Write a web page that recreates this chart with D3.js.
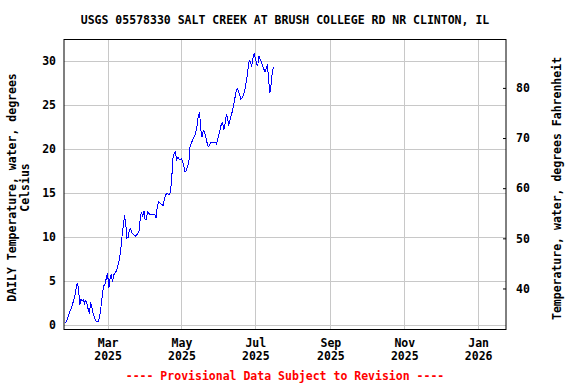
<!DOCTYPE html>
<html>
<head>
<meta charset="utf-8">
<script src="https://cdn.jsdelivr.net/npm/d3@7"></script>
<style>
  html, body { margin: 0; padding: 0; background: #fff; }
  svg { display: block; }
  text { font-family: "DejaVu Sans Mono", "Liberation Mono", monospace; font-weight: bold; }
</style>
</head>
<body>
<svg id="chart" width="576" height="384"></svg>
<script>
// ---------------- DATA ----------------
const title = "USGS 05578330 SALT CREEK AT BRUSH COLLEGE RD NR CLINTON, IL";
const leftTitleLines = ["DAILY Temperature, water, degrees", "Celsius"];
const rightTitle = "Temperature, water, degrees Fahrenheit";
const footnote = "---- Provisional Data Subject to Revision ----";

const xDomain = ["2025-01-24", "2026-01-24"];
const xTickDates = ["2025-03-01", "2025-05-01", "2025-07-01", "2025-09-01", "2025-11-01", "2026-01-01"];
const xTickMonths = ["Mar", "May", "Jul", "Sep", "Nov", "Jan"];
const xTickYears = ["2025", "2025", "2025", "2025", "2025", "2026"];

const yTicksC = [0, 5, 10, 15, 20, 25, 30];
const yDomainC = [-0.49, 32.47];
const yTicksF = [40, 50, 60, 70, 80];
const yDomainF = [31.82, 89.65];

// Daily mean water temperature (deg C), one value per day starting firstDay
const firstDay = "2025-01-25";
const tempC = [
  0.25, 0.4, 0.8, 1.2, 1.6, 1.9, 2.4, 2.8, 3.3, 4.2,
  4.8, 4.2, 2.3, 2.9, 2.8, 2.9, 2.5, 2.8, 2.4, 1.8,
  1.3, 2.6, 2.0, 1.4, 0.9, 0.6, 0.4, 0.35, 0.7, 1.5,
  2.6, 3.8, 4.5, 4.7, 5.4, 5.9, 4.2, 5.3, 5.8, 4.9,
  5.7, 5.9, 6.1, 6.5, 7.0, 7.7, 8.8, 10.2, 11.3, 12.5,
  11.5, 9.9, 10.0, 10.8, 11.0, 10.5, 10.4, 10.2, 10.1, 10.3,
  10.4, 10.7, 12.2, 12.9, 12.3, 13.0, 12.0, 12.0, 12.9, 12.7,
  12.6, 12.6, 12.6, 12.6, 12.6, 12.2, 13.4, 14.0, 13.9, 13.8,
  13.7, 13.6, 14.4, 14.8, 15.0, 14.9, 14.9, 15.2, 16.8, 19.0,
  19.6, 19.7, 18.8, 19.1, 18.9, 18.8, 18.9, 18.6, 18.0, 17.4,
  17.6, 18.0, 18.4, 20.2, 20.6, 21.0, 21.3, 21.5, 22.0, 22.8,
  23.9, 24.1, 22.2, 21.4, 22.1, 22.0, 21.5, 20.8, 20.3, 20.4,
  20.7, 20.8, 20.7, 20.8, 20.8, 20.6, 21.2, 21.7, 22.3, 22.9,
  23.0, 22.2, 22.9, 23.9, 23.6, 22.7, 23.3, 23.8, 24.3, 25.0,
  25.7, 26.5, 26.9, 26.7, 26.2, 25.7, 25.8, 26.1, 26.5, 27.2,
  28.1, 29.2, 30.1, 29.9, 29.4, 30.3, 30.9, 30.4, 29.7, 29.5,
  30.6, 30.2, 29.9, 29.4, 29.1, 28.8, 29.2, 29.5, 27.9, 26.4,
  27.3, 28.8, 29.3
];

// ---------------- CHART ----------------
const svg = d3.select("#chart");
const plot = { left: 64, right: 506, top: 39.5, bottom: 329.5 };

const parse = d3.utcParse("%Y-%m-%d");
const x = d3.scaleUtc().domain(xDomain.map(parse)).range([plot.left, plot.right]);
const yC = d3.scaleLinear().domain(yDomainC).range([plot.bottom, plot.top]);
const yF = d3.scaleLinear().domain(yDomainF).range([plot.bottom, plot.top]);

const start = parse(firstDay);
const series = tempC.map((v, i) => ({ date: d3.utcDay.offset(start, i), value: v }));

// gridlines
const grid = svg.append("g").attr("stroke", "#c8c8c8").attr("stroke-width", 1);
grid.selectAll("line.h").data(yTicksC).join("line")
  .attr("x1", plot.left).attr("x2", plot.right)
  .attr("y1", d => Math.round(yC(d)) + 0.5).attr("y2", d => Math.round(yC(d)) + 0.5);
grid.selectAll("line.v").data(xTickDates).join("line")
  .attr("y1", plot.top).attr("y2", plot.bottom)
  .attr("x1", d => Math.round(x(parse(d))) + 0.5).attr("x2", d => Math.round(x(parse(d))) + 0.5);

// data line
const line = d3.line().x(d => x(d.date)).y(d => yC(d.value));
svg.append("path").datum(series)
  .attr("fill", "none").attr("stroke", "#0000ff").attr("stroke-width", 1)
  .attr("shape-rendering", "crispEdges")
  .attr("d", line);

// left axis labels
const leftAxis = d3.axisLeft(yC).tickValues(yTicksC).tickSize(0).tickPadding(8);
const gL = svg.append("g").attr("transform", `translate(${plot.left},0)`).call(leftAxis);
gL.select(".domain").remove();
gL.selectAll("text").attr("font-size", 11.5).attr("fill", "#000")
  .attr("font-family", '"DejaVu Sans Mono", monospace').attr("font-weight", "bold");

// right axis
const rightAxis = d3.axisRight(yF).tickValues(yTicksF).tickSize(-3).tickPadding(10);
const gR = svg.append("g").attr("transform", `translate(${plot.right},0)`).call(rightAxis);
gR.select(".domain").remove();
gR.selectAll("line").attr("stroke", "#000");
gR.selectAll("text").attr("font-size", 11.5).attr("fill", "#000")
  .attr("font-family", '"DejaVu Sans Mono", monospace').attr("font-weight", "bold");

// bottom axis labels (two lines)
const bottomAxis = d3.axisBottom(x).tickValues(xTickDates.map(parse)).tickSize(0).tickFormat("");
const gB = svg.append("g").attr("transform", `translate(0,${plot.bottom})`).call(bottomAxis);
gB.select(".domain").remove();
gB.selectAll(".tick").each(function(d, i) {
  const t = d3.select(this);
  t.append("text").attr("y", 17.5).attr("text-anchor", "middle").attr("font-size", 11.5)
    .attr("fill", "#000").text(xTickMonths[i]);
  t.append("text").attr("y", 30.5).attr("text-anchor", "middle").attr("font-size", 11.5)
    .attr("fill", "#000").text(xTickYears[i]);
});

// plot border
svg.append("rect")
  .attr("x", plot.left).attr("y", plot.top)
  .attr("width", plot.right - plot.left).attr("height", plot.bottom - plot.top)
  .attr("fill", "none").attr("stroke", "#000").attr("stroke-width", 1);

// title
svg.append("text").attr("x", 285).attr("y", 24).attr("text-anchor", "middle")
  .attr("font-size", 11.5).attr("fill", "#000").text(title);

// left title
const midY = (plot.top + plot.bottom) / 2;
leftTitleLines.forEach((s, i) => {
  svg.append("text")
    .attr("transform", `translate(${16 + i * 13},${midY + 3}) rotate(-90)`)
    .attr("text-anchor", "middle").attr("font-size", 11.5).attr("fill", "#000").text(s);
});

// right title
svg.append("text")
  .attr("transform", `translate(561,${midY + 4}) rotate(-90)`)
  .attr("text-anchor", "middle").attr("font-size", 11.5).attr("fill", "#000").text(rightTitle);

// footnote
svg.append("text").attr("x", 285).attr("y", 379.5).attr("text-anchor", "middle")
  .attr("font-size", 11.5).attr("fill", "#ff0000").text(footnote);
</script>
</body>
</html>
